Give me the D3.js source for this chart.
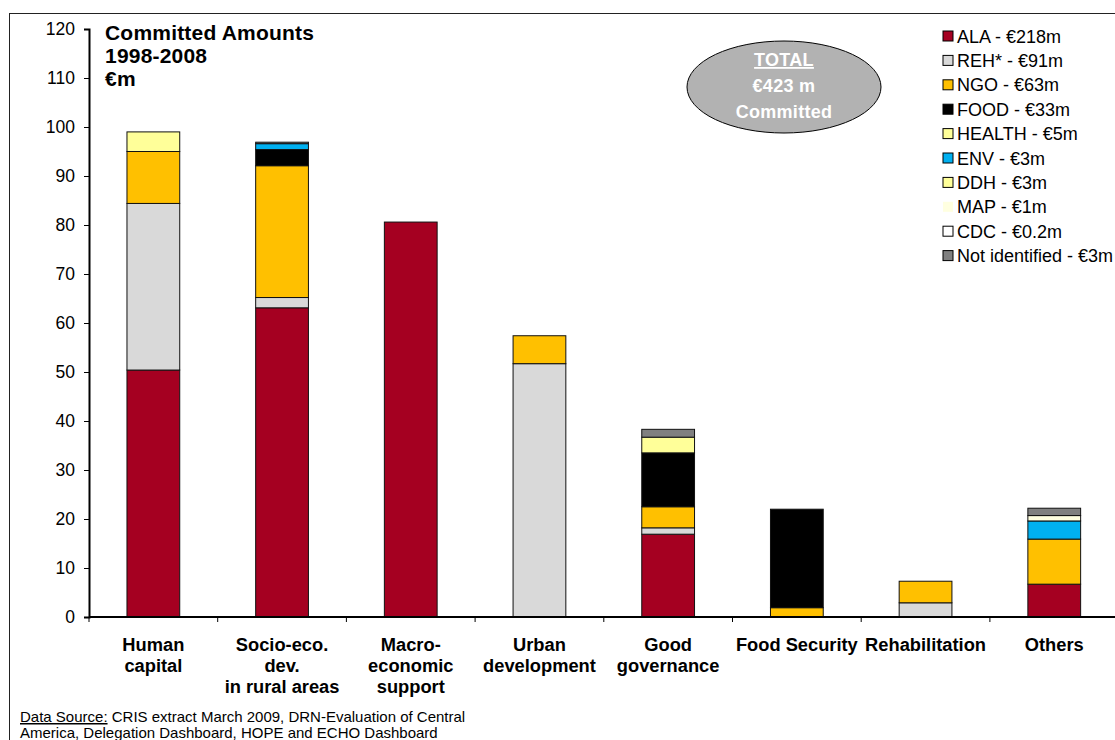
<!DOCTYPE html>
<html>
<head>
<meta charset="utf-8">
<script src="https://cdn.jsdelivr.net/npm/d3@7"></script>
<style>
  body { margin: 0; background: #fff; }
  svg { display: block; font-family: "Liberation Sans", Arial, sans-serif; }
</style>
</head>
<body>
<svg id="chart" width="1115" height="740"></svg>
<script>
// categories (x axis, multi-line labels)
const categories = ["Human capital", "Socio-eco. dev. in rural areas", "Macro-economic support",
    "Urban development", "Good governance", "Food Security", "Rehabilitation", "Others"];
const categoryLines = [["Human", "capital"], ["Socio-eco.", "dev.", "in rural areas"],
    ["Macro-", "economic", "support"], ["Urban", "development"], ["Good", "governance"],
    ["Food Security"], ["Rehabilitation"], ["Others"]];

// series, stacked bottom to top
const seriesKeys = ["ALA", "REH", "NGO", "FOOD", "HEALTH", "ENV", "DDH", "MAP", "CDC", "NI"];
const seriesLabels = ["ALA - €218m", "REH* - €91m", "NGO - €63m", "FOOD - €33m", "HEALTH - €5m",
    "ENV - €3m", "DDH - €3m", "MAP - €1m", "CDC - €0.2m", "Not identified - €3m"];
const seriesColors = ["#A50021", "#D9D9D9", "#FFC000", "#000000", "#FFFF99",
    "#00B0F0", "#FFFF99", "#FFFFE0", "#FFFFFF", "#808080"];

// values per series, one entry per category (€m)
const ALA    = [50.4, 63.1, 80.6, 0,    16.9, 0,    0,   6.7];
const REH    = [34.0, 2.1,  0,    51.7, 1.3,  0,    2.9, 0];
const NGO    = [10.6, 26.9, 0,    5.7,  4.3,  1.9,  4.4, 9.2];
const FOOD   = [0,    3.3,  0,    0,    11.0, 20.1, 0,   0];
const HEALTH = [4.0,  0,    0,    0,    0,    0,    0,   0];
const ENV    = [0,    1.2,  0,    0,    0,    0,    0,   3.7];
const DDH    = [0,    0,    0,    0,    3.2,  0,    0,   0];
const MAP    = [0,    0,    0,    0,    0,    0,    0,   1.1];
const CDC    = [0,    0,    0,    0,    0,    0,    0,   0];
const NI     = [0,    0.3,  0,    0,    1.6,  0,    0,   1.5];

const yTicks = [0, 10, 20, 30, 40, 50, 60, 70, 80, 90, 100, 110, 120];

const seriesValues = {ALA, REH, NGO, FOOD, HEALTH, ENV, DDH, MAP, CDC, NI};
const rows = categories.map((c, i) => {
    const r = {category: c};
    seriesKeys.forEach(k => r[k] = seriesValues[k][i]);
    return r;
});

const svg = d3.select("#chart");
const plot = {left: 89, top: 29, bottom: 617, step: 128.7};

// chart frame (runs off the right and bottom edges)
svg.append("rect")
    .attr("x", 9.5).attr("y", 13.5)
    .attr("width", 1300).attr("height", 900)
    .attr("fill", "none").attr("stroke", "#222").attr("stroke-width", 1);

const x = d3.scaleBand()
    .domain(categories)
    .range([plot.left, plot.left + plot.step * categories.length])
    .paddingInner(0.59)
    .paddingOuter(0.295);

const xCell = d3.scaleBand()
    .domain(categories)
    .range([plot.left, plot.left + plot.step * categories.length]);

const y = d3.scaleLinear()
    .domain([0, 120])
    .range([plot.bottom, plot.top]);

const stack = d3.stack().keys(seriesKeys);
const layers = stack(rows);

// bars
const layer = svg.append("g").selectAll("g")
    .data(layers)
    .join("g")
    .attr("fill", (d, i) => seriesColors[i]);

layer.selectAll("rect")
    .data(d => d.filter(s => s[1] - s[0] > 0))
    .join("rect")
    .attr("x", d => x(d.data.category))
    .attr("y", d => y(d[1]))
    .attr("width", x.bandwidth())
    .attr("height", d => y(d[0]) - y(d[1]))
    .attr("stroke", "#111")
    .attr("stroke-width", 1);

// y axis
const yAxis = svg.append("g")
    .attr("transform", `translate(${plot.left},0)`)
    .call(d3.axisLeft(y).tickValues(yTicks).tickSize(5).tickPadding(9));
yAxis.select(".domain").attr("stroke", "#000").attr("stroke-width", 2);
yAxis.selectAll(".tick line").attr("stroke", "#000");
yAxis.selectAll(".tick text")
    .attr("font-size", 17.5)
    .attr("fill", "#000")
    .attr("font-family", "Liberation Sans, Arial, sans-serif");

// x axis line with ticks at category boundaries
svg.append("line")
    .attr("x1", plot.left).attr("x2", 1115)
    .attr("y1", plot.bottom).attr("y2", plot.bottom)
    .attr("stroke", "#000").attr("stroke-width", 2);

svg.append("g").selectAll("line")
    .data(categories)
    .join("line")
    .attr("x1", d => xCell(d)).attr("x2", d => xCell(d))
    .attr("y1", plot.bottom).attr("y2", plot.bottom + 5)
    .attr("stroke", "#000");

// category labels
svg.append("g").selectAll("text")
    .data(categories)
    .join("text")
    .attr("x", d => x(d) + x.bandwidth() / 2)
    .attr("y", 651)
    .attr("text-anchor", "middle")
    .attr("font-size", 18.3)
    .attr("font-weight", "bold")
    .selectAll("tspan")
    .data((d, i) => categoryLines[i].map(t => ({t, cx: x(d) + x.bandwidth() / 2})))
    .join("tspan")
    .attr("x", d => d.cx)
    .attr("dy", (d, i) => i === 0 ? 0 : 21)
    .text(d => d.t);

// title
svg.append("text")
    .attr("x", 105).attr("y", 40)
    .attr("font-size", 21).attr("font-weight", "bold")
    .attr("letter-spacing", 0.2)
    .selectAll("tspan")
    .data(["Committed Amounts", "1998-2008", "€m"])
    .join("tspan")
    .attr("x", 105)
    .attr("dy", (d, i) => i === 0 ? 0 : 23)
    .text(d => d);

// total ellipse
const badge = svg.append("g");
badge.append("ellipse")
    .attr("cx", 784).attr("cy", 87)
    .attr("rx", 97).attr("ry", 46)
    .attr("fill", "#B2B2B2").attr("stroke", "#000").attr("stroke-width", 1);
badge.selectAll("text")
    .data(["TOTAL", "€423 m", "Committed"])
    .join("text")
    .attr("x", 784)
    .attr("y", (d, i) => 66 + i * 26)
    .attr("text-anchor", "middle")
    .attr("font-size", 18).attr("font-weight", "bold")
    .attr("fill", "#fff")
    .attr("letter-spacing", 0.3)
    .attr("text-decoration", (d, i) => i === 0 ? "underline" : null)
    .text(d => d);

// legend
const legend = svg.append("g").selectAll("g")
    .data(seriesLabels)
    .join("g")
    .attr("transform", (d, i) => `translate(943,${36.5 + i * 24.4})`);

legend.append("rect")
    .attr("x", 0).attr("y", -5.5)
    .attr("width", 10).attr("height", 10)
    .attr("fill", (d, i) => seriesColors[i])
    .attr("stroke", (d, i) => seriesKeys[i] === "MAP" ? "none" : "#000");

legend.append("text")
    .attr("x", 14).attr("y", 6)
    .attr("font-size", 18)
    .text(d => d);

// data source
const src = svg.append("text")
    .attr("x", 20).attr("y", 722)
    .attr("font-size", 15);
src.append("tspan").attr("text-decoration", "underline").text("Data Source:");
src.append("tspan").text(" CRIS extract March 2009, DRN-Evaluation of Central");
svg.append("text")
    .attr("x", 20).attr("y", 738)
    .attr("font-size", 15)
    .text("America, Delegation Dashboard, HOPE and ECHO Dashboard");
</script>
</body>
</html>
